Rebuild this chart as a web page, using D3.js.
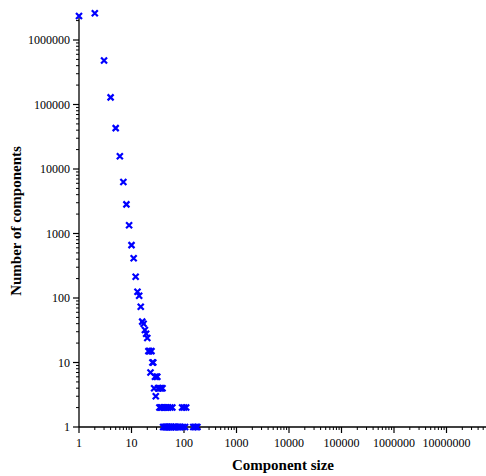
<!DOCTYPE html>
<html>
<head>
<meta charset="utf-8">
<script src="https://cdn.jsdelivr.net/npm/d3@7"></script>
<style>
  html, body { margin: 0; padding: 0; background: #fff; }
  svg { display: block; }
  text { font-family: "Liberation Serif", "DejaVu Serif", serif; fill: #000; }
</style>
</head>
<body>
<svg id="chart" width="486" height="476"></svg>
<script>
// Component size distribution (log–log)
const sizes = [1, 2, 3, 4, 5, 6, 7, 8, 9, 10, 11, 12, 13, 14, 15, 16, 17, 18, 19, 20,
  21, 22, 23, 24, 25, 26, 27, 28, 29, 30, 31, 32, 33, 34, 35, 36, 37, 38, 39, 40,
  41, 42, 43, 44, 45, 46, 47, 48, 50, 51, 53, 55, 57, 58, 60, 62, 65, 68, 70, 75,
  80, 85, 92, 95, 100, 105, 110, 150, 160, 170, 180];
const counts = [2360000, 2600000, 480000, 129000, 43000, 15800, 6300, 2830, 1340, 660,
  412, 214, 125, 108, 73, 43, 40, 32, 28, 24,
  15, 15, 7, 15, 10, 10, 4, 6, 3, 6, 6, 4, 4, 2, 4, 2, 4, 2, 4, 1,
  2, 1, 2, 1, 1, 2, 1, 1, 2, 1, 1, 2, 1, 1, 2, 1, 1, 1, 1, 1,
  1, 1, 2, 1, 2, 1, 2, 1, 1, 1, 1];
const xTickValues = [1, 10, 100, 1000, 10000, 100000, 1000000, 10000000];
const yTickValues = [1, 10, 100, 1000, 10000, 100000, 1000000];
const xTitle = "Component size";
const yTitle = "Number of components";

const svg = d3.select("#chart");
const x = d3.scaleLog().domain([1, 1e8]).range([79, 499]);
const y = d3.scaleLog().domain([1, 1e6]).range([427, 40]);
const yTop = 2.23e6;

// minor tick positions for each decade
function minorTicks(lo, hi) {
  const out = [];
  for (let d = lo; d < hi; d *= 10) {
    for (let k = 2; k <= 9; k++) out.push(d * k);
  }
  return out;
}

// X axis
const gx = svg.append("g");
gx.append("line")
  .attr("x1", x(1)).attr("x2", 486)
  .attr("y1", y(1)).attr("y2", y(1))
  .attr("stroke", "#000").attr("stroke-width", 1.3);
gx.selectAll("line.minor").data(minorTicks(1, 1e8).filter(v => x(v) <= 486))
  .join("line").attr("class", "minor")
  .attr("x1", d => x(d)).attr("x2", d => x(d))
  .attr("y1", y(1)).attr("y2", y(1) + 3)
  .attr("stroke", "#000").attr("stroke-width", 1);
gx.selectAll("line.major").data(xTickValues)
  .join("line").attr("class", "major")
  .attr("x1", d => x(d)).attr("x2", d => x(d))
  .attr("y1", y(1)).attr("y2", y(1) + 6)
  .attr("stroke", "#000").attr("stroke-width", 1.2);
gx.selectAll("text").data(xTickValues)
  .join("text")
  .attr("x", d => x(d)).attr("y", y(1) + 20)
  .attr("text-anchor", "middle")
  .attr("font-size", 12)
  .text(d => d3.format("d")(d));

// Y axis
const gy = svg.append("g");
gy.append("line")
  .attr("x1", x(1)).attr("x2", x(1))
  .attr("y1", y(1)).attr("y2", y(yTop))
  .attr("stroke", "#000").attr("stroke-width", 1.3);
gy.selectAll("line.minor").data(minorTicks(1, 1e6).concat([2e6]))
  .join("line").attr("class", "minor")
  .attr("x1", x(1) - 3).attr("x2", x(1))
  .attr("y1", d => y(d)).attr("y2", d => y(d))
  .attr("stroke", "#000").attr("stroke-width", 1);
gy.selectAll("line.major").data(yTickValues)
  .join("line").attr("class", "major")
  .attr("x1", x(1) - 6).attr("x2", x(1))
  .attr("y1", d => y(d)).attr("y2", d => y(d))
  .attr("stroke", "#000").attr("stroke-width", 1.2);
gy.selectAll("text").data(yTickValues)
  .join("text")
  .attr("x", x(1) - 9).attr("y", d => y(d) + 4)
  .attr("text-anchor", "end")
  .attr("font-size", 12)
  .text(d => d3.format("d")(d));

// Axis titles
svg.append("text")
  .attr("x", 283).attr("y", 470)
  .attr("text-anchor", "middle")
  .attr("font-size", 15).attr("font-weight", "bold")
  .text(xTitle);
svg.append("text")
  .attr("transform", "translate(21,221) rotate(-90)")
  .attr("text-anchor", "middle")
  .attr("font-size", 15).attr("font-weight", "bold")
  .text(yTitle);

// Cross markers
const r = 3;
const pts = sizes.map((s, i) => ({ s, c: counts[i] }));
svg.append("g").selectAll("path").data(pts)
  .join("path")
  .attr("d", d => {
    const cx = x(d.s), cy = y(d.c);
    return `M${cx - r},${cy - r}L${cx + r},${cy + r}M${cx - r},${cy + r}L${cx + r},${cy - r}`;
  })
  .attr("stroke", "#0000ff").attr("stroke-width", 2.2).attr("fill", "none");
</script>
</body>
</html>
